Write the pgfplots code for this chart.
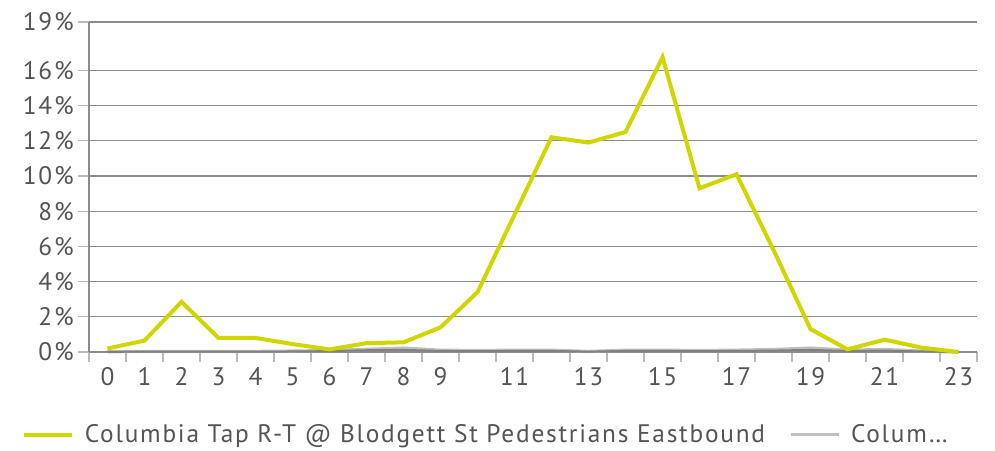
\documentclass[border=0pt]{standalone}
\usepackage{pgfplots}
\pgfplotsset{compat=1.18}
\usepackage{fontspec}
\setmainfont{PT Sans}[LetterSpace=7]
\definecolor{lineyel}{HTML}{D0D600}
\definecolor{txtgray}{HTML}{555555}
\definecolor{gridgray}{HTML}{8C8C8C}
\begin{document}
\begin{tikzpicture}
\begin{axis}[
    name=main,
    width=666pt, height=247.5pt, scale only axis,
    xmin=-0.5, xmax=23.5,
    ymin=0, ymax=18.75,
    axis line style={gridgray, line width=1.2pt},
    axis x line*=bottom, axis y line*=left,
    xtick={0,...,23},
    xticklabels={0,1,2,3,4,5,6,7,8,9,,11,,13,,15,,17,,19,,21,,23},
    major x tick style={draw=none},
    minor xtick={-0.5,0.5,...,23.5},
    minor x tick style={gridgray!60, line width=1pt},
    minor tick length=7.5pt,
    ytick={0,2,4,6,8,10,12,14,16,18.75},
    yticklabels={0\%,2\%,4\%,6\%,8\%,10\%,12\%,14\%,16\%,19\%},
    major y tick style={gridgray!60, line width=1pt},
    major tick length=8pt,
    tick align=outside,
    ymajorgrids=true,
    grid style={gridgray, line width=1pt},
    tick label style={font=\fontsize{19}{21}\selectfont, text=txtgray},
    /pgf/number format/assume math mode=true,
    reverse legend,
    legend style={draw=none, at={(-0.08,-0.25)}, anchor=west,
        legend columns=-1, font=\fontsize{19}{21}\selectfont, text=txtgray,
        /tikz/every odd column/.append style={column sep=6pt},
        /tikz/every even column/.append style={column sep=16pt}},
    legend image code/.code={\draw[#1] (0pt,0pt) -- (36pt,0pt);},
    clip=false,
]
\addplot[gridgray!70, line width=2.5pt, opacity=0.8] coordinates {
    (0,0.02)(1,0.03)(2,0.03)(3,0.03)(4,0.03)(5,0.05)(6,0.08)(7,0.15)
    (8,0.22)(9,0.1)(10,0.08)(11,0.1)(12,0.1)(13,0.03)(14,0.1)(15,0.1)
    (16,0.08)(17,0.1)(18,0.14)(19,0.22)(20,0.1)(21,0.14)(22,0.05)(23,0.0)
};
\addplot[gray, line width=1.5pt, forget plot] coordinates {
    (0,0.01)(1,0.02)(2,0.02)(3,0.02)(4,0.02)(5,0.03)(6,0.05)(7,0.1)
    (8,0.12)(9,0.06)(10,0.05)(11,0.06)(12,0.06)(13,0.02)(14,0.06)(15,0.06)
    (16,0.05)(17,0.06)(18,0.08)(19,0.12)(20,0.06)(21,0.08)(22,0.03)(23,0.0)
};
\addplot[lineyel, line width=3pt] coordinates {
    (0,0.2)(1,0.65)(2,2.85)(3,0.8)(4,0.8)(5,0.45)(6,0.15)(7,0.5)
    (8,0.55)(9,1.4)(10,3.4)(11,7.8)(12,12.2)(13,11.9)(14,12.5)(15,16.75)
    (16,9.3)(17,10.1)(18,5.8)(19,1.3)(20,0.15)(21,0.7)(22,0.25)(23,0.0)
};
\legend{Colum\ldots,Columbia Tap R-T @ Blodgett St Pedestrians Eastbound}
\end{axis}
% page frame, 995x450 px at 0.75pt per px
\path ([xshift=-66.75pt,yshift=-73.5pt]main.south west)
    rectangle ([xshift=13.5pt,yshift=16.5pt]main.north east);
\end{tikzpicture}
\end{document}
